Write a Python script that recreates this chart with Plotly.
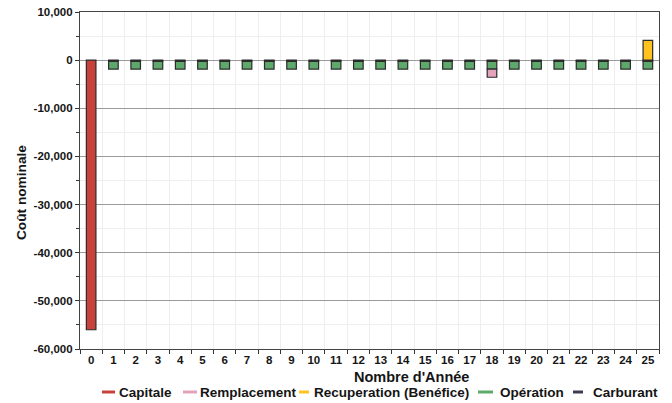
import plotly.graph_objects as go

years = [str(y) for y in range(26)]
capitale = [-56000] + [0] * 25
remplacement = [0] * 18 + [-1700] + [0] * 7
recuperation = [0] * 25 + [4100]
operation = [0] + [-1600] * 25
carburant = [0] + [-250] * 25

y_tick_vals = [10000, 0, -10000, -20000, -30000, -40000, -50000, -60000]
y_tick_text = ["10,000", "0", "-10,000", "-20,000", "-30,000", "-40,000", "-50,000", "-60,000"]

series_names = ["Capitale", "Remplacement", "Recuperation (Benéfice)", "Opération", "Carburant"]
series_colors = ["#c8413b", "#e3a3bb", "#ffc21f", "#5ea86c", "#3a3d55"]

FONT = "Liberation Sans, Arial, sans-serif"
TXT = "#151515"

fig = go.Figure()
# stacking order from zero outward
for name, vals, col in [
    ("Carburant", carburant, series_colors[4]),
    ("Opération", operation, series_colors[3]),
    ("Remplacement", remplacement, series_colors[1]),
    ("Capitale", capitale, series_colors[0]),
    ("Recuperation (Benéfice)", recuperation, series_colors[2]),
]:
    fig.add_trace(go.Bar(
        x=years, y=[v if v != 0 else None for v in vals], name=name,
        marker=dict(color=col, line=dict(color="#2b2b2b", width=1.2)),
        showlegend=False,
    ))

fig.update_layout(
    width=672, height=403,
    margin=dict(l=80, r=13, t=12, b=54, autoexpand=False),
    paper_bgcolor="white", plot_bgcolor="white",
    barmode="relative", bargap=0.57,
    font=dict(family=FONT, color=TXT, weight="bold"),
    showlegend=False,
)
fig.update_xaxes(
    type="category", tickson="boundaries", ticks="outside", ticklen=4, tickangle=0,
    automargin=False,
    tickcolor="#333", showline=True, linecolor="#444", linewidth=1.2, mirror=True,
    showgrid=True, gridcolor="#eeeeee", gridwidth=1,
    tickfont=dict(size=11.5, family=FONT, color=TXT, weight="bold"),
)
fig.update_yaxes(
    range=[-60000, 10000], tickmode="array", tickvals=y_tick_vals, ticktext=y_tick_text,
    automargin=False,
    ticks="outside", ticklen=4, tickcolor="#333",
    showline=True, linecolor="#444", linewidth=1.2, mirror=True,
    showgrid=True, gridcolor="#9a9a9a", gridwidth=1,
    zeroline=True, zerolinecolor="#9a9a9a", zerolinewidth=1,
    minor=dict(dtick=5000, tick0=5000, showgrid=True, gridcolor="#eeeeee", ticks="outside", ticklen=3, tickcolor="#333"),
    tickfont=dict(size=11.5, family=FONT, color=TXT, weight="bold"),
)

# axis titles
fig.add_annotation(text="Nombre d'Année", xref="paper", yref="paper", x=0.572, y=-0.083,
                   showarrow=False, xanchor="center", yanchor="middle",
                   font=dict(size=14.5, family=FONT, color=TXT, weight="bold"))
fig.add_annotation(text="Coût nominale", xref="paper", yref="paper", x=-0.100, y=0.463,
                   showarrow=False, xanchor="center", yanchor="middle", textangle=-90,
                   font=dict(size=13.7, family=FONT, color=TXT, weight="bold"))

# legend (manual, to match compact layout)
W, H, L, B = 579.0, 337.0, 80.0, 349.0
def px(x):
    return (x - L) / W
def py(y):
    return (B - y) / H
leg = [(102, 115, 117), (183, 197, 198), (299, 309, 312), (478, 493, 498), (573, 583, 591)]
for (d0, d1, tx), name, col in zip(leg, series_names, series_colors):
    fig.add_shape(type="line", xref="paper", yref="paper", x0=px(d0), x1=px(d1),
                  y0=py(392), y1=py(392), line=dict(color=col, width=3))
    fig.add_annotation(text=name, xref="paper", yref="paper", x=px(tx), y=py(392),
                       showarrow=False, xanchor="left", yanchor="middle",
                       font=dict(size=13.5, family=FONT, color=TXT, weight="bold"))

fig.write_html("out.html", config={"displayModeBar": False},
               post_script="document.body.style.margin='0';document.body.style.overflow='hidden';")
